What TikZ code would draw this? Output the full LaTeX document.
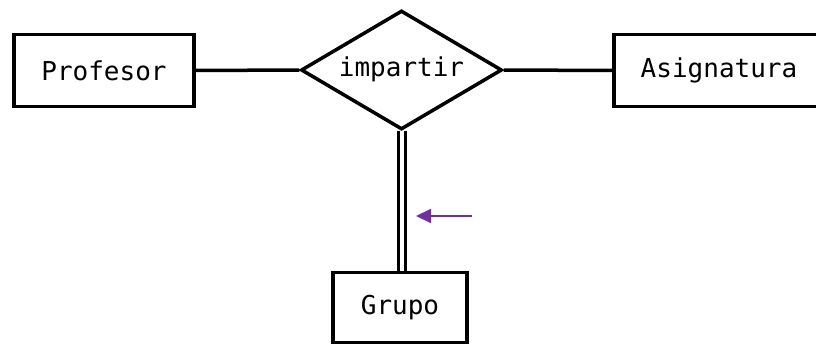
\documentclass[tikz,border=0pt]{standalone}
\usepackage{fontspec}
\setmonofont{DejaVu Sans Mono}
\usetikzlibrary{shapes.geometric,arrows.meta}
\definecolor{arrowpurple}{RGB}{112,48,160}
\begin{document}
\begin{tikzpicture}[x=1pt,y=-1pt,
  entity/.style={draw=black,line width=3.5pt,rectangle,fill=white,inner sep=0pt,font=\ttfamily\fontsize{26}{26}\selectfont},
  relation/.style={draw=black,line width=3.5pt,diamond,fill=white,inner sep=0pt,font=\ttfamily\fontsize{26}{26}\selectfont},
  conn/.style={draw=black,line width=3.5pt},
  total/.style={draw=black,double=white,double distance=4pt,line width=3pt},
  hint/.style={draw=arrowpurple,line width=2pt,-{Triangle[length=15pt,width=14pt]}}]
\useasboundingbox (0,0) rectangle (816,345);
\clip (0,0) rectangle (816,345);
\node[entity,minimum width=180pt,minimum height=72pt] (prof) at (104,70.5) {Profesor};
\node[relation,minimum width=201pt,minimum height=119pt] (rel) at (401.5,70) {\makebox[0pt]{\raisebox{-0.26em}[0pt][0pt]{impartir}}};
\node[entity,minimum width=210pt,minimum height=72pt] (asig) at (719,70.5) {Asignatura};
\node[entity,minimum width=134pt,minimum height=70pt] (grupo) at (400,307.5) {Grupo};
\draw[conn] (prof.east) -- (rel.west);
\draw[conn] (rel.east) -- (asig.west);
\draw[total] (rel.south) -- (grupo.north -| rel.south);
\coordinate (hstart) at (472,216);
\coordinate (hend) at (416,216);
\draw[hint] (hstart) -- (hend);
\end{tikzpicture}
\end{document}
